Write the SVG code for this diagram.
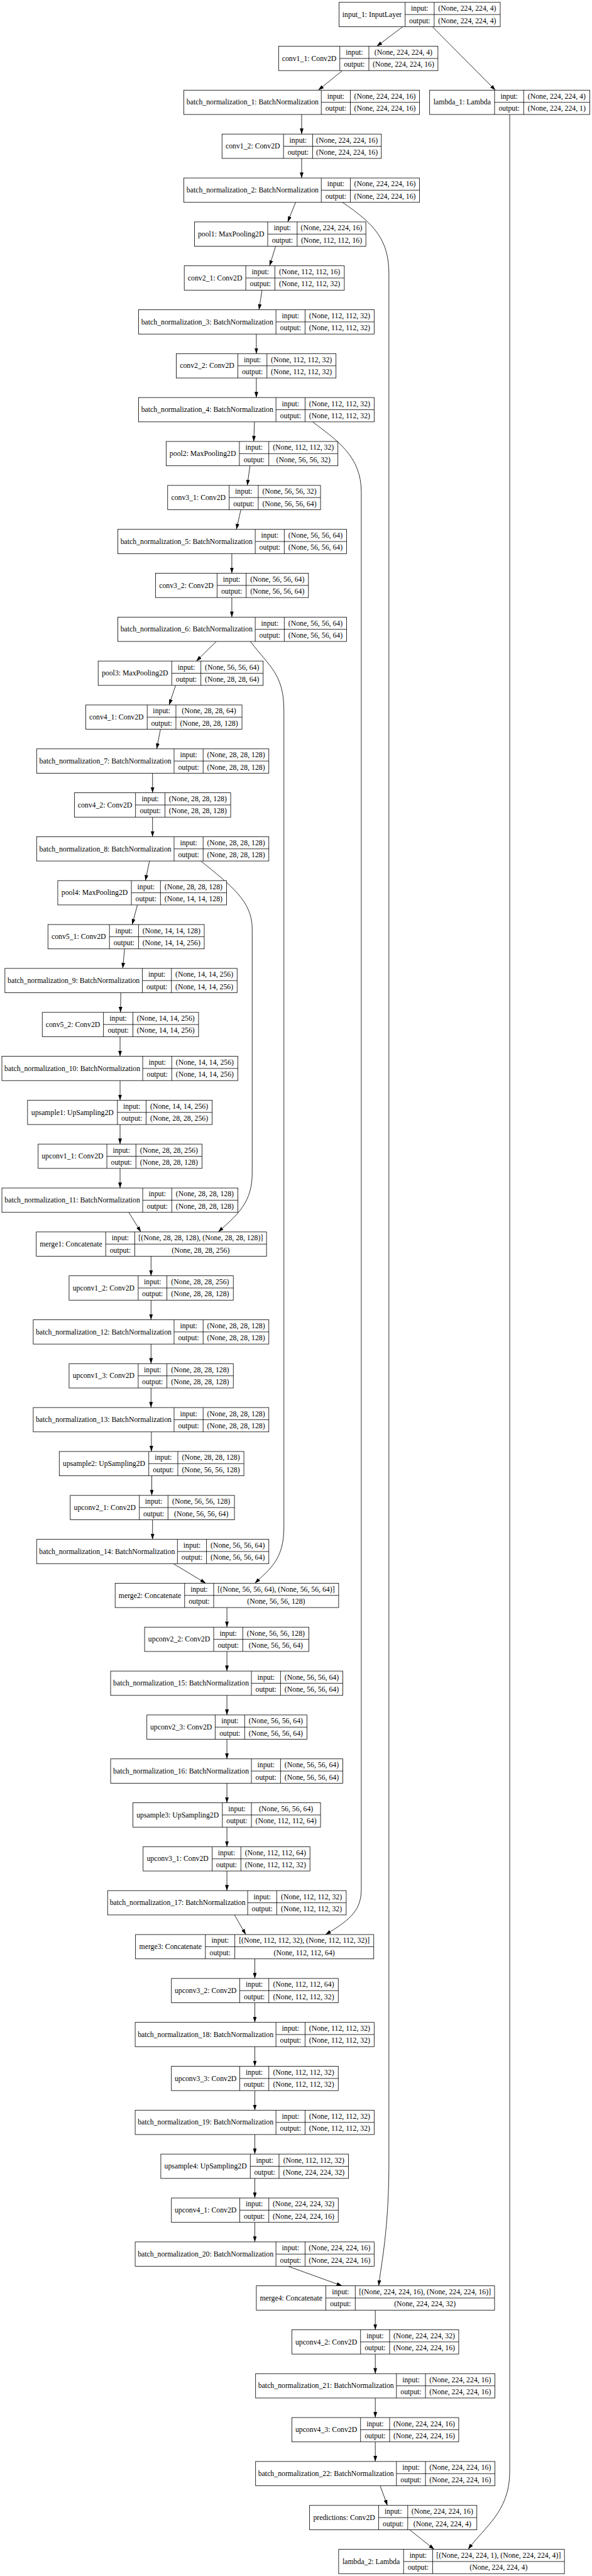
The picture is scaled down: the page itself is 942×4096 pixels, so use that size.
<svg xmlns="http://www.w3.org/2000/svg" width="942" height="4096" viewBox="0 0 942 4096">
<style>
.n rect{fill:#fff;stroke:#000;stroke-width:1.3}
.n path{fill:none;stroke:#000;stroke-width:1.3}
text{font-family:"Liberation Serif","Times New Roman",serif;font-size:18.67px;text-anchor:middle;fill:#000}
#edges path{fill:none;stroke:#000;stroke-width:1.3;marker-end:url(#ah)}
</style>
<defs>
<marker id="ah" viewBox="0 0 14 9.4" refX="14" refY="4.7" markerWidth="14" markerHeight="9.4" markerUnits="userSpaceOnUse" orient="auto"><path d="M0,0L14,4.7L0,9.4Z" fill="#000"/></marker>
</defs>
<rect width="942" height="4096" fill="#fff"/>
<g transform="scale(0.63093)">
<g id="edges">
<path d="M1016,67.2L950.3,116.6"/>
<path d="M1090.3,67.2L1249.3,227.2"/>
<path d="M863.6,177.9L802.7,227.2"/>
<path d="M760.8,288.5L760.8,337.9"/>
<path d="M760.8,399.2L760.8,448.6"/>
<path d="M745.6,509.9L725.6,559.3"/>
<path d="M695.1,620.6L679.9,669.9"/>
<path d="M660.8,731.2L653.2,780.6"/>
<path d="M646.5,841.9L646.5,891.3"/>
<path d="M646.5,952.6L646.5,1001.9"/>
<path d="M641.8,1063.2L639.9,1112.6"/>
<path d="M630.4,1173.9L623.7,1223.3"/>
<path d="M607.5,1284.6L596.1,1334"/>
<path d="M584.7,1395.3L584.7,1444.6"/>
<path d="M584.7,1505.9L584.7,1555.3"/>
<path d="M545.6,1616.6L495.1,1666"/>
<path d="M442.8,1727.3L426.6,1776.6"/>
<path d="M404.7,1837.9L395.2,1887.3"/>
<path d="M384.7,1948.6L384.7,1998"/>
<path d="M384.7,2059.3L384.7,2108.6"/>
<path d="M377.1,2169.9L366.6,2219.3"/>
<path d="M346.6,2280.6L333.3,2330"/>
<path d="M314.2,2391.3L309.5,2440.6"/>
<path d="M304.7,2501.9L303.8,2551.3"/>
<path d="M302.8,2612.6L302.8,2662"/>
<path d="M302.8,2723.3L302.8,2772.7"/>
<path d="M302.8,2834L302.8,2883.3"/>
<path d="M302.8,2944.6L302.8,2994"/>
<path d="M324.7,3055.3L355.2,3104.7"/>
<path d="M380.9,3166L380.9,3215.3"/>
<path d="M380.9,3276.6L380.9,3326"/>
<path d="M380.9,3387.3L380.9,3436.7"/>
<path d="M380.9,3498L380.9,3547.3"/>
<path d="M381.8,3608.6L381.8,3658"/>
<path d="M382.8,3719.3L382.8,3768.7"/>
<path d="M384.7,3830L384.7,3879.4"/>
<path d="M437.1,3940.7L519,3990"/>
<path d="M572.3,4051.3L572.3,4100.7"/>
<path d="M572.3,4162L572.3,4211.4"/>
<path d="M572.3,4272.7L572.3,4322"/>
<path d="M572.3,4383.3L572.3,4432.7"/>
<path d="M572.3,4494L572.3,4543.4"/>
<path d="M572.3,4604.7L572.3,4654"/>
<path d="M572.3,4715.3L572.3,4764.7"/>
<path d="M591.3,4826L619.9,4875.4"/>
<path d="M642.7,4936.7L642.7,4986.1"/>
<path d="M642.7,5047.4L642.7,5096.7"/>
<path d="M642.7,5158L642.7,5207.4"/>
<path d="M642.7,5268.7L642.7,5318.1"/>
<path d="M642.7,5379.4L642.7,5428.7"/>
<path d="M642.7,5490L642.7,5539.4"/>
<path d="M642.7,5600.7L642.7,5650.1"/>
<path d="M726.5,5711.4L862.7,5760.7"/>
<path d="M946.5,5822L946.5,5871.4"/>
<path d="M946.5,5932.7L946.5,5982.1"/>
<path d="M946.5,6043.4L946.5,6092.7"/>
<path d="M946.5,6154L946.5,6203.4"/>
<path d="M958.9,6264.7L977,6314.1"/>
<path d="M1033.1,6375.4L1095,6424.8"/>
<path d="M863.6,509.9C945,565 980.8,605 980.8,690L980.8,5450C980.8,5620 962,5700 955.1,5760.7"/>
<path d="M788.4,1063.2C850,1110 911.2,1150 911.2,1240L911.2,4760C911.2,4810 890,4835 820.8,4875.4"/>
<path d="M631.3,1616.6C680,1680 716,1700 716,1790L716,3850C716,3930 680,3955 642.7,3990"/>
<path d="M506.6,2169.9C580,2230 636,2270 636,2340L636,2950C638,3030 600,3060 550.4,3104.7"/>
<path d="M1285.5,288.5L1285.5,6230C1285.5,6330 1220,6370 1180.7,6424.8"/>
</g>
<g id="input_1" class="n" transform="translate(0 5.9)"><rect x="855" width="406.6" height="61.3"/><path d="M1021.7 0V61.3M1095 0V61.3M1021.7 30.7H1261.6"/><text x="938.4" y="36.7">input_1: InputLayer</text><text x="1058.4" y="21.3">input:</text><text x="1058.4" y="52">output:</text><text x="1178.3" y="21.3">(None, 224, 224, 4)</text><text x="1178.3" y="52">(None, 224, 224, 4)</text></g>
<g id="conv1_1" class="n" transform="translate(0 116.6)"><rect x="702.7" width="401.8" height="61.3"/><path d="M857 0V61.3M930.3 0V61.3M857 30.7H1104.5"/><text x="779.9" y="36.7">conv1_1: Conv2D</text><text x="893.7" y="21.3">input:</text><text x="893.7" y="52">output:</text><text x="1017.4" y="21.3">(None, 224, 224, 4)</text><text x="1017.4" y="52">(None, 224, 224, 16)</text></g>
<g id="batch_normalization_1" class="n" transform="translate(0 227.2)"><rect x="463.7" width="594.2" height="61.3"/><path d="M810.3 0V61.3M883.6 0V61.3M810.3 30.7H1057.9"/><text x="637" y="36.7">batch_normalization_1: BatchNormalization</text><text x="847" y="21.3">input:</text><text x="847" y="52">output:</text><text x="970.8" y="21.3">(None, 224, 224, 16)</text><text x="970.8" y="52">(None, 224, 224, 16)</text></g>
<g id="lambda_1" class="n" transform="translate(0 227.2)"><rect x="1083.6" width="403.7" height="61.3"/><path d="M1247.3 0V61.3M1320.7 0V61.3M1247.3 30.7H1487.3"/><text x="1165.5" y="36.7">lambda_1: Lambda</text><text x="1284" y="21.3">input:</text><text x="1284" y="52">output:</text><text x="1404" y="21.3">(None, 224, 224, 4)</text><text x="1404" y="52">(None, 224, 224, 1)</text></g>
<g id="conv1_2" class="n" transform="translate(0 337.9)"><rect x="559.9" width="401.8" height="61.3"/><path d="M715.1 0V61.3M788.4 0V61.3M715.1 30.7H961.7"/><text x="637.5" y="36.7">conv1_2: Conv2D</text><text x="751.8" y="21.3">input:</text><text x="751.8" y="52">output:</text><text x="875.1" y="21.3">(None, 224, 224, 16)</text><text x="875.1" y="52">(None, 224, 224, 16)</text></g>
<g id="batch_normalization_2" class="n" transform="translate(0 448.6)"><rect x="463.7" width="594.2" height="61.3"/><path d="M810.3 0V61.3M883.6 0V61.3M810.3 30.7H1057.9"/><text x="637" y="36.7">batch_normalization_2: BatchNormalization</text><text x="847" y="21.3">input:</text><text x="847" y="52">output:</text><text x="970.8" y="21.3">(None, 224, 224, 16)</text><text x="970.8" y="52">(None, 224, 224, 16)</text></g>
<g id="pool1" class="n" transform="translate(0 559.3)"><rect x="490.4" width="432.3" height="61.3"/><path d="M675.1 0V61.3M749.4 0V61.3M675.1 30.7H922.7"/><text x="582.8" y="36.7">pool1: MaxPooling2D</text><text x="712.3" y="21.3">input:</text><text x="712.3" y="52">output:</text><text x="836.1" y="21.3">(None, 224, 224, 16)</text><text x="836.1" y="52">(None, 112, 112, 16)</text></g>
<g id="conv2_1" class="n" transform="translate(0 669.9)"><rect x="464.7" width="403.7" height="61.3"/><path d="M619.9 0V61.3M693.2 0V61.3M619.9 30.7H868.4"/><text x="542.3" y="36.7">conv2_1: Conv2D</text><text x="656.6" y="21.3">input:</text><text x="656.6" y="52">output:</text><text x="780.8" y="21.3">(None, 112, 112, 16)</text><text x="780.8" y="52">(None, 112, 112, 32)</text></g>
<g id="batch_normalization_3" class="n" transform="translate(0 780.6)"><rect x="349.4" width="594.2" height="61.3"/><path d="M696 0V61.3M769.4 0V61.3M696 30.7H943.6"/><text x="522.7" y="36.7">batch_normalization_3: BatchNormalization</text><text x="732.7" y="21.3">input:</text><text x="732.7" y="52">output:</text><text x="856.5" y="21.3">(None, 112, 112, 32)</text><text x="856.5" y="52">(None, 112, 112, 32)</text></g>
<g id="conv2_2" class="n" transform="translate(0 891.3)"><rect x="444.7" width="402.7" height="61.3"/><path d="M599.9 0V61.3M673.2 0V61.3M599.9 30.7H847.4"/><text x="522.3" y="36.7">conv2_2: Conv2D</text><text x="636.6" y="21.3">input:</text><text x="636.6" y="52">output:</text><text x="760.3" y="21.3">(None, 112, 112, 32)</text><text x="760.3" y="52">(None, 112, 112, 32)</text></g>
<g id="batch_normalization_4" class="n" transform="translate(0 1001.9)"><rect x="349.4" width="594.2" height="61.3"/><path d="M696 0V61.3M769.4 0V61.3M696 30.7H943.6"/><text x="522.7" y="36.7">batch_normalization_4: BatchNormalization</text><text x="732.7" y="21.3">input:</text><text x="732.7" y="52">output:</text><text x="856.5" y="21.3">(None, 112, 112, 32)</text><text x="856.5" y="52">(None, 112, 112, 32)</text></g>
<g id="pool2" class="n" transform="translate(0 1112.6)"><rect x="419" width="433.2" height="61.3"/><path d="M603.7 0V61.3M677.9 0V61.3M603.7 30.7H852.2"/><text x="511.4" y="36.7">pool2: MaxPooling2D</text><text x="640.8" y="21.3">input:</text><text x="640.8" y="52">output:</text><text x="765.1" y="21.3">(None, 112, 112, 32)</text><text x="765.1" y="52">(None, 56, 56, 32)</text></g>
<g id="conv3_1" class="n" transform="translate(0 1223.3)"><rect x="422.8" width="385.6" height="61.3"/><path d="M578 0V61.3M651.3 0V61.3M578 30.7H808.4"/><text x="500.4" y="36.7">conv3_1: Conv2D</text><text x="614.7" y="21.3">input:</text><text x="614.7" y="52">output:</text><text x="729.9" y="21.3">(None, 56, 56, 32)</text><text x="729.9" y="52">(None, 56, 56, 64)</text></g>
<g id="batch_normalization_5" class="n" transform="translate(0 1334)"><rect x="297.1" width="577" height="61.3"/><path d="M643.7 0V61.3M717 0V61.3M643.7 30.7H874.1"/><text x="470.4" y="36.7">batch_normalization_5: BatchNormalization</text><text x="680.4" y="21.3">input:</text><text x="680.4" y="52">output:</text><text x="795.6" y="21.3">(None, 56, 56, 64)</text><text x="795.6" y="52">(None, 56, 56, 64)</text></g>
<g id="conv3_2" class="n" transform="translate(0 1444.6)"><rect x="392.3" width="385.6" height="61.3"/><path d="M547.5 0V61.3M620.8 0V61.3M547.5 30.7H777.9"/><text x="469.9" y="36.7">conv3_2: Conv2D</text><text x="584.2" y="21.3">input:</text><text x="584.2" y="52">output:</text><text x="699.4" y="21.3">(None, 56, 56, 64)</text><text x="699.4" y="52">(None, 56, 56, 64)</text></g>
<g id="batch_normalization_6" class="n" transform="translate(0 1555.3)"><rect x="297.1" width="577" height="61.3"/><path d="M643.7 0V61.3M717 0V61.3M643.7 30.7H874.1"/><text x="470.4" y="36.7">batch_normalization_6: BatchNormalization</text><text x="680.4" y="21.3">input:</text><text x="680.4" y="52">output:</text><text x="795.6" y="21.3">(None, 56, 56, 64)</text><text x="795.6" y="52">(None, 56, 56, 64)</text></g>
<g id="pool3" class="n" transform="translate(0 1666)"><rect x="247.6" width="416.1" height="61.3"/><path d="M433.2 0V61.3M506.6 0V61.3M433.2 30.7H663.7"/><text x="340.4" y="36.7">pool3: MaxPooling2D</text><text x="469.9" y="21.3">input:</text><text x="469.9" y="52">output:</text><text x="585.2" y="21.3">(None, 56, 56, 64)</text><text x="585.2" y="52">(None, 28, 28, 64)</text></g>
<g id="conv4_1" class="n" transform="translate(0 1776.6)"><rect x="216.1" width="394.2" height="61.3"/><path d="M371.3 0V61.3M443.7 0V61.3M371.3 30.7H610.3"/><text x="293.7" y="36.7">conv4_1: Conv2D</text><text x="407.5" y="21.3">input:</text><text x="407.5" y="52">output:</text><text x="527" y="21.3">(None, 28, 28, 64)</text><text x="527" y="52">(None, 28, 28, 128)</text></g>
<g id="batch_normalization_7" class="n" transform="translate(0 1887.3)"><rect x="92.4" width="585.6" height="61.3"/><path d="M439 0V61.3M512.3 0V61.3M439 30.7H678"/><text x="265.7" y="36.7">batch_normalization_7: BatchNormalization</text><text x="475.7" y="21.3">input:</text><text x="475.7" y="52">output:</text><text x="595.2" y="21.3">(None, 28, 28, 128)</text><text x="595.2" y="52">(None, 28, 28, 128)</text></g>
<g id="conv4_2" class="n" transform="translate(0 1998)"><rect x="187.6" width="394.2" height="61.3"/><path d="M341.8 0V61.3M416.1 0V61.3M341.8 30.7H581.8"/><text x="264.7" y="36.7">conv4_2: Conv2D</text><text x="379" y="21.3">input:</text><text x="379" y="52">output:</text><text x="499" y="21.3">(None, 28, 28, 128)</text><text x="499" y="52">(None, 28, 28, 128)</text></g>
<g id="batch_normalization_8" class="n" transform="translate(0 2108.6)"><rect x="92.4" width="585.6" height="61.3"/><path d="M439 0V61.3M512.3 0V61.3M439 30.7H678"/><text x="265.7" y="36.7">batch_normalization_8: BatchNormalization</text><text x="475.7" y="21.3">input:</text><text x="475.7" y="52">output:</text><text x="595.2" y="21.3">(None, 28, 28, 128)</text><text x="595.2" y="52">(None, 28, 28, 128)</text></g>
<g id="pool4" class="n" transform="translate(0 2219.3)"><rect x="145.7" width="425.6" height="61.3"/><path d="M331.4 0V61.3M404.7 0V61.3M331.4 30.7H571.3"/><text x="238.6" y="36.7">pool4: MaxPooling2D</text><text x="368.1" y="21.3">input:</text><text x="368.1" y="52">output:</text><text x="488" y="21.3">(None, 28, 28, 128)</text><text x="488" y="52">(None, 14, 14, 128)</text></g>
<g id="conv5_1" class="n" transform="translate(0 2330)"><rect x="120.9" width="394.2" height="61.3"/><path d="M276.1 0V61.3M349.4 0V61.3M276.1 30.7H515.1"/><text x="198.5" y="36.7">conv5_1: Conv2D</text><text x="312.8" y="21.3">input:</text><text x="312.8" y="52">output:</text><text x="432.3" y="21.3">(None, 14, 14, 128)</text><text x="432.3" y="52">(None, 14, 14, 256)</text></g>
<g id="batch_normalization_9" class="n" transform="translate(0 2440.6)"><rect x="12.4" width="585.6" height="61.3"/><path d="M359 0V61.3M432.3 0V61.3M359 30.7H598"/><text x="185.7" y="36.7">batch_normalization_9: BatchNormalization</text><text x="395.7" y="21.3">input:</text><text x="395.7" y="52">output:</text><text x="515.2" y="21.3">(None, 14, 14, 256)</text><text x="515.2" y="52">(None, 14, 14, 256)</text></g>
<g id="conv5_2" class="n" transform="translate(0 2551.3)"><rect x="106.6" width="394.2" height="61.3"/><path d="M260.9 0V61.3M335.2 0V61.3M260.9 30.7H500.8"/><text x="183.8" y="36.7">conv5_2: Conv2D</text><text x="298.1" y="21.3">input:</text><text x="298.1" y="52">output:</text><text x="418" y="21.3">(None, 14, 14, 256)</text><text x="418" y="52">(None, 14, 14, 256)</text></g>
<g id="batch_normalization_10" class="n" transform="translate(0 2662)"><rect x="4.8" width="595.1" height="61.3"/><path d="M359.9 0V61.3M433.2 0V61.3M359.9 30.7H599.9"/><text x="182.4" y="36.7">batch_normalization_10: BatchNormalization</text><text x="396.6" y="21.3">input:</text><text x="396.6" y="52">output:</text><text x="516.6" y="21.3">(None, 14, 14, 256)</text><text x="516.6" y="52">(None, 14, 14, 256)</text></g>
<g id="upsample1" class="n" transform="translate(0 2772.7)"><rect x="69.5" width="465.6" height="61.3"/><path d="M296.1 0V61.3M368.5 0V61.3M296.1 30.7H535.1"/><text x="182.8" y="36.7">upsample1: UpSampling2D</text><text x="332.3" y="21.3">input:</text><text x="332.3" y="52">output:</text><text x="451.8" y="21.3">(None, 14, 14, 256)</text><text x="451.8" y="52">(None, 28, 28, 256)</text></g>
<g id="upconv1_1" class="n" transform="translate(0 2883.3)"><rect x="96.2" width="413.2" height="61.3"/><path d="M269.5 0V61.3M342.8 0V61.3M269.5 30.7H509.4"/><text x="182.9" y="36.7">upconv1_1: Conv2D</text><text x="306.2" y="21.3">input:</text><text x="306.2" y="52">output:</text><text x="426.1" y="21.3">(None, 28, 28, 256)</text><text x="426.1" y="52">(None, 28, 28, 128)</text></g>
<g id="batch_normalization_11" class="n" transform="translate(0 2994)"><rect x="4.8" width="595.1" height="61.3"/><path d="M359.9 0V61.3M433.2 0V61.3M359.9 30.7H599.9"/><text x="182.4" y="36.7">batch_normalization_11: BatchNormalization</text><text x="396.6" y="21.3">input:</text><text x="396.6" y="52">output:</text><text x="516.6" y="21.3">(None, 28, 28, 128)</text><text x="516.6" y="52">(None, 28, 28, 128)</text></g>
<g id="merge1" class="n" transform="translate(0 3104.7)"><rect x="91.4" width="580.8" height="61.3"/><path d="M266.6 0V61.3M339.9 0V61.3M266.6 30.7H672.2"/><text x="179" y="36.7">merge1: Concatenate</text><text x="303.3" y="21.3">input:</text><text x="303.3" y="52">output:</text><text x="506.1" y="21.3">[(None, 28, 28, 128), (None, 28, 28, 128)]</text><text x="506.1" y="52">(None, 28, 28, 256)</text></g>
<g id="upconv1_2" class="n" transform="translate(0 3215.3)"><rect x="174.2" width="414.2" height="61.3"/><path d="M348.5 0V61.3M420.9 0V61.3M348.5 30.7H588.4"/><text x="261.4" y="36.7">upconv1_2: Conv2D</text><text x="384.7" y="21.3">input:</text><text x="384.7" y="52">output:</text><text x="504.7" y="21.3">(None, 28, 28, 256)</text><text x="504.7" y="52">(None, 28, 28, 128)</text></g>
<g id="batch_normalization_12" class="n" transform="translate(0 3326)"><rect x="83.8" width="594.2" height="61.3"/><path d="M439 0V61.3M512.3 0V61.3M439 30.7H678"/><text x="261.4" y="36.7">batch_normalization_12: BatchNormalization</text><text x="475.7" y="21.3">input:</text><text x="475.7" y="52">output:</text><text x="595.2" y="21.3">(None, 28, 28, 128)</text><text x="595.2" y="52">(None, 28, 28, 128)</text></g>
<g id="upconv1_3" class="n" transform="translate(0 3436.7)"><rect x="174.2" width="414.2" height="61.3"/><path d="M348.5 0V61.3M420.9 0V61.3M348.5 30.7H588.4"/><text x="261.4" y="36.7">upconv1_3: Conv2D</text><text x="384.7" y="21.3">input:</text><text x="384.7" y="52">output:</text><text x="504.7" y="21.3">(None, 28, 28, 128)</text><text x="504.7" y="52">(None, 28, 28, 128)</text></g>
<g id="batch_normalization_13" class="n" transform="translate(0 3547.3)"><rect x="83.8" width="594.2" height="61.3"/><path d="M439 0V61.3M512.3 0V61.3M439 30.7H678"/><text x="261.4" y="36.7">batch_normalization_13: BatchNormalization</text><text x="475.7" y="21.3">input:</text><text x="475.7" y="52">output:</text><text x="595.2" y="21.3">(None, 28, 28, 128)</text><text x="595.2" y="52">(None, 28, 28, 128)</text></g>
<g id="upsample2" class="n" transform="translate(0 3658)"><rect x="149.5" width="465.6" height="61.3"/><path d="M375.2 0V61.3M448.5 0V61.3M375.2 30.7H615.1"/><text x="262.4" y="36.7">upsample2: UpSampling2D</text><text x="411.9" y="21.3">input:</text><text x="411.9" y="52">output:</text><text x="531.8" y="21.3">(None, 28, 28, 128)</text><text x="531.8" y="52">(None, 56, 56, 128)</text></g>
<g id="upconv2_1" class="n" transform="translate(0 3768.7)"><rect x="177.1" width="414.2" height="61.3"/><path d="M351.4 0V61.3M423.7 0V61.3M351.4 30.7H591.3"/><text x="264.3" y="36.7">upconv2_1: Conv2D</text><text x="387.6" y="21.3">input:</text><text x="387.6" y="52">output:</text><text x="507.5" y="21.3">(None, 56, 56, 128)</text><text x="507.5" y="52">(None, 56, 56, 64)</text></g>
<g id="batch_normalization_14" class="n" transform="translate(0 3879.4)"><rect x="92.4" width="585.6" height="61.3"/><path d="M447.5 0V61.3M520.8 0V61.3M447.5 30.7H678"/><text x="270" y="36.7">batch_normalization_14: BatchNormalization</text><text x="484.2" y="21.3">input:</text><text x="484.2" y="52">output:</text><text x="599.4" y="21.3">(None, 56, 56, 64)</text><text x="599.4" y="52">(None, 56, 56, 64)</text></g>
<g id="merge2" class="n" transform="translate(0 3990)"><rect x="290.4" width="563.7" height="61.3"/><path d="M465.6 0V61.3M538.9 0V61.3M465.6 30.7H854.1"/><text x="378" y="36.7">merge2: Concatenate</text><text x="502.3" y="21.3">input:</text><text x="502.3" y="52">output:</text><text x="696.5" y="21.3">[(None, 56, 56, 64), (None, 56, 56, 64)]</text><text x="696.5" y="52">(None, 56, 56, 128)</text></g>
<g id="upconv2_2" class="n" transform="translate(0 4100.7)"><rect x="364.7" width="414.2" height="61.3"/><path d="M538.9 0V61.3M612.2 0V61.3M538.9 30.7H778.9"/><text x="451.8" y="36.7">upconv2_2: Conv2D</text><text x="575.6" y="21.3">input:</text><text x="575.6" y="52">output:</text><text x="695.6" y="21.3">(None, 56, 56, 128)</text><text x="695.6" y="52">(None, 56, 56, 64)</text></g>
<g id="batch_normalization_15" class="n" transform="translate(0 4211.4)"><rect x="279" width="585.6" height="61.3"/><path d="M634.1 0V61.3M707.5 0V61.3M634.1 30.7H864.6"/><text x="456.6" y="36.7">batch_normalization_15: BatchNormalization</text><text x="670.8" y="21.3">input:</text><text x="670.8" y="52">output:</text><text x="786.1" y="21.3">(None, 56, 56, 64)</text><text x="786.1" y="52">(None, 56, 56, 64)</text></g>
<g id="upconv2_3" class="n" transform="translate(0 4322)"><rect x="370.4" width="403.7" height="61.3"/><path d="M542.7 0V61.3M617 0V61.3M542.7 30.7H774.1"/><text x="456.6" y="36.7">upconv2_3: Conv2D</text><text x="579.9" y="21.3">input:</text><text x="579.9" y="52">output:</text><text x="695.6" y="21.3">(None, 56, 56, 64)</text><text x="695.6" y="52">(None, 56, 56, 64)</text></g>
<g id="batch_normalization_16" class="n" transform="translate(0 4432.7)"><rect x="279" width="585.6" height="61.3"/><path d="M634.1 0V61.3M707.5 0V61.3M634.1 30.7H864.6"/><text x="456.6" y="36.7">batch_normalization_16: BatchNormalization</text><text x="670.8" y="21.3">input:</text><text x="670.8" y="52">output:</text><text x="786.1" y="21.3">(None, 56, 56, 64)</text><text x="786.1" y="52">(None, 56, 56, 64)</text></g>
<g id="upsample3" class="n" transform="translate(0 4543.4)"><rect x="335.2" width="473.2" height="61.3"/><path d="M560.8 0V61.3M634.1 0V61.3M560.8 30.7H808.4"/><text x="448" y="36.7">upsample3: UpSampling2D</text><text x="597.5" y="21.3">input:</text><text x="597.5" y="52">output:</text><text x="721.3" y="21.3">(None, 56, 56, 64)</text><text x="721.3" y="52">(None, 112, 112, 64)</text></g>
<g id="upconv3_1" class="n" transform="translate(0 4654)"><rect x="360.9" width="420.8" height="61.3"/><path d="M535.1 0V61.3M607.5 0V61.3M535.1 30.7H781.7"/><text x="448" y="36.7">upconv3_1: Conv2D</text><text x="571.3" y="21.3">input:</text><text x="571.3" y="52">output:</text><text x="694.6" y="21.3">(None, 112, 112, 64)</text><text x="694.6" y="52">(None, 112, 112, 32)</text></g>
<g id="batch_normalization_17" class="n" transform="translate(0 4764.7)"><rect x="271.4" width="601.7" height="61.3"/><path d="M624.6 0V61.3M697.9 0V61.3M624.6 30.7H873.1"/><text x="448" y="36.7">batch_normalization_17: BatchNormalization</text><text x="661.3" y="21.3">input:</text><text x="661.3" y="52">output:</text><text x="785.5" y="21.3">(None, 112, 112, 32)</text><text x="785.5" y="52">(None, 112, 112, 32)</text></g>
<g id="merge3" class="n" transform="translate(0 4875.4)"><rect x="341.8" width="600.8" height="61.3"/><path d="M518 0V61.3M592.2 0V61.3M518 30.7H942.6"/><text x="429.9" y="36.7">merge3: Concatenate</text><text x="555.1" y="21.3">input:</text><text x="555.1" y="52">output:</text><text x="767.4" y="21.3">[(None, 112, 112, 32), (None, 112, 112, 32)]</text><text x="767.4" y="52">(None, 112, 112, 64)</text></g>
<g id="upconv3_2" class="n" transform="translate(0 4986.1)"><rect x="432.3" width="420.8" height="61.3"/><path d="M604.6 0V61.3M677.9 0V61.3M604.6 30.7H853.1"/><text x="518.5" y="36.7">upconv3_2: Conv2D</text><text x="641.3" y="21.3">input:</text><text x="641.3" y="52">output:</text><text x="765.5" y="21.3">(None, 112, 112, 64)</text><text x="765.5" y="52">(None, 112, 112, 32)</text></g>
<g id="batch_normalization_18" class="n" transform="translate(0 5096.7)"><rect x="340.9" width="602.7" height="61.3"/><path d="M696 0V61.3M769.4 0V61.3M696 30.7H943.6"/><text x="518.5" y="36.7">batch_normalization_18: BatchNormalization</text><text x="732.7" y="21.3">input:</text><text x="732.7" y="52">output:</text><text x="856.5" y="21.3">(None, 112, 112, 32)</text><text x="856.5" y="52">(None, 112, 112, 32)</text></g>
<g id="upconv3_3" class="n" transform="translate(0 5207.4)"><rect x="432.3" width="420.8" height="61.3"/><path d="M604.6 0V61.3M677.9 0V61.3M604.6 30.7H853.1"/><text x="518.5" y="36.7">upconv3_3: Conv2D</text><text x="641.3" y="21.3">input:</text><text x="641.3" y="52">output:</text><text x="765.5" y="21.3">(None, 112, 112, 32)</text><text x="765.5" y="52">(None, 112, 112, 32)</text></g>
<g id="batch_normalization_19" class="n" transform="translate(0 5318.1)"><rect x="340.9" width="602.7" height="61.3"/><path d="M696 0V61.3M769.4 0V61.3M696 30.7H943.6"/><text x="518.5" y="36.7">batch_normalization_19: BatchNormalization</text><text x="732.7" y="21.3">input:</text><text x="732.7" y="52">output:</text><text x="856.5" y="21.3">(None, 112, 112, 32)</text><text x="856.5" y="52">(None, 112, 112, 32)</text></g>
<g id="upsample4" class="n" transform="translate(0 5428.7)"><rect x="405.6" width="473.3" height="61.3"/><path d="M631.3 0V61.3M703.7 0V61.3M631.3 30.7H878.9"/><text x="518.5" y="36.7">upsample4: UpSampling2D</text><text x="667.5" y="21.3">input:</text><text x="667.5" y="52">output:</text><text x="791.3" y="21.3">(None, 112, 112, 32)</text><text x="791.3" y="52">(None, 224, 224, 32)</text></g>
<g id="upconv4_1" class="n" transform="translate(0 5539.4)"><rect x="432.3" width="420.8" height="61.3"/><path d="M604.6 0V61.3M677.9 0V61.3M604.6 30.7H853.1"/><text x="518.5" y="36.7">upconv4_1: Conv2D</text><text x="641.3" y="21.3">input:</text><text x="641.3" y="52">output:</text><text x="765.5" y="21.3">(None, 224, 224, 32)</text><text x="765.5" y="52">(None, 224, 224, 16)</text></g>
<g id="batch_normalization_20" class="n" transform="translate(0 5650.1)"><rect x="340.9" width="602.7" height="61.3"/><path d="M696 0V61.3M769.4 0V61.3M696 30.7H943.6"/><text x="518.5" y="36.7">batch_normalization_20: BatchNormalization</text><text x="732.7" y="21.3">input:</text><text x="732.7" y="52">output:</text><text x="856.5" y="21.3">(None, 224, 224, 16)</text><text x="856.5" y="52">(None, 224, 224, 16)</text></g>
<g id="merge4" class="n" transform="translate(0 5760.7)"><rect x="646.5" width="600.8" height="61.3"/><path d="M821.7 0V61.3M896 0V61.3M821.7 30.7H1247.3"/><text x="734.1" y="36.7">merge4: Concatenate</text><text x="858.9" y="21.3">input:</text><text x="858.9" y="52">output:</text><text x="1071.7" y="21.3">[(None, 224, 224, 16), (None, 224, 224, 16)]</text><text x="1071.7" y="52">(None, 224, 224, 32)</text></g>
<g id="upconv4_2" class="n" transform="translate(0 5871.4)"><rect x="736" width="420.9" height="61.3"/><path d="M909.3 0V61.3M982.6 0V61.3M909.3 30.7H1156.9"/><text x="822.7" y="36.7">upconv4_2: Conv2D</text><text x="946" y="21.3">input:</text><text x="946" y="52">output:</text><text x="1069.8" y="21.3">(None, 224, 224, 32)</text><text x="1069.8" y="52">(None, 224, 224, 16)</text></g>
<g id="batch_normalization_21" class="n" transform="translate(0 5982.1)"><rect x="644.6" width="603.7" height="61.3"/><path d="M999.8 0V61.3M1073.1 0V61.3M999.8 30.7H1248.3"/><text x="822.2" y="36.7">batch_normalization_21: BatchNormalization</text><text x="1036.5" y="21.3">input:</text><text x="1036.5" y="52">output:</text><text x="1160.7" y="21.3">(None, 224, 224, 16)</text><text x="1160.7" y="52">(None, 224, 224, 16)</text></g>
<g id="upconv4_3" class="n" transform="translate(0 6092.7)"><rect x="736" width="420.9" height="61.3"/><path d="M909.3 0V61.3M982.6 0V61.3M909.3 30.7H1156.9"/><text x="822.7" y="36.7">upconv4_3: Conv2D</text><text x="946" y="21.3">input:</text><text x="946" y="52">output:</text><text x="1069.8" y="21.3">(None, 224, 224, 16)</text><text x="1069.8" y="52">(None, 224, 224, 16)</text></g>
<g id="batch_normalization_22" class="n" transform="translate(0 6203.4)"><rect x="644.6" width="603.7" height="61.3"/><path d="M999.8 0V61.3M1073.1 0V61.3M999.8 30.7H1248.3"/><text x="822.2" y="36.7">batch_normalization_22: BatchNormalization</text><text x="1036.5" y="21.3">input:</text><text x="1036.5" y="52">output:</text><text x="1160.7" y="21.3">(None, 224, 224, 16)</text><text x="1160.7" y="52">(None, 224, 224, 16)</text></g>
<g id="predictions" class="n" transform="translate(0 6314.1)"><rect x="780.8" width="421.8" height="61.3"/><path d="M955 0V61.3M1028.3 0V61.3M955 30.7H1202.6"/><text x="867.9" y="36.7">predictions: Conv2D</text><text x="991.7" y="21.3">input:</text><text x="991.7" y="52">output:</text><text x="1115.5" y="21.3">(None, 224, 224, 16)</text><text x="1115.5" y="52">(None, 224, 224, 4)</text></g>
<g id="lambda_2" class="n" transform="translate(0 6424.8)"><rect x="854.1" width="569.4" height="61.3"/><path d="M1017.9 0V61.3M1091.2 0V61.3M1017.9 30.7H1423.5"/><text x="936" y="36.7">lambda_2: Lambda</text><text x="1054.6" y="21.3">input:</text><text x="1054.6" y="52">output:</text><text x="1257.4" y="21.3">[(None, 224, 224, 1), (None, 224, 224, 4)]</text><text x="1257.4" y="52">(None, 224, 224, 4)</text></g>
</g>
</svg>
